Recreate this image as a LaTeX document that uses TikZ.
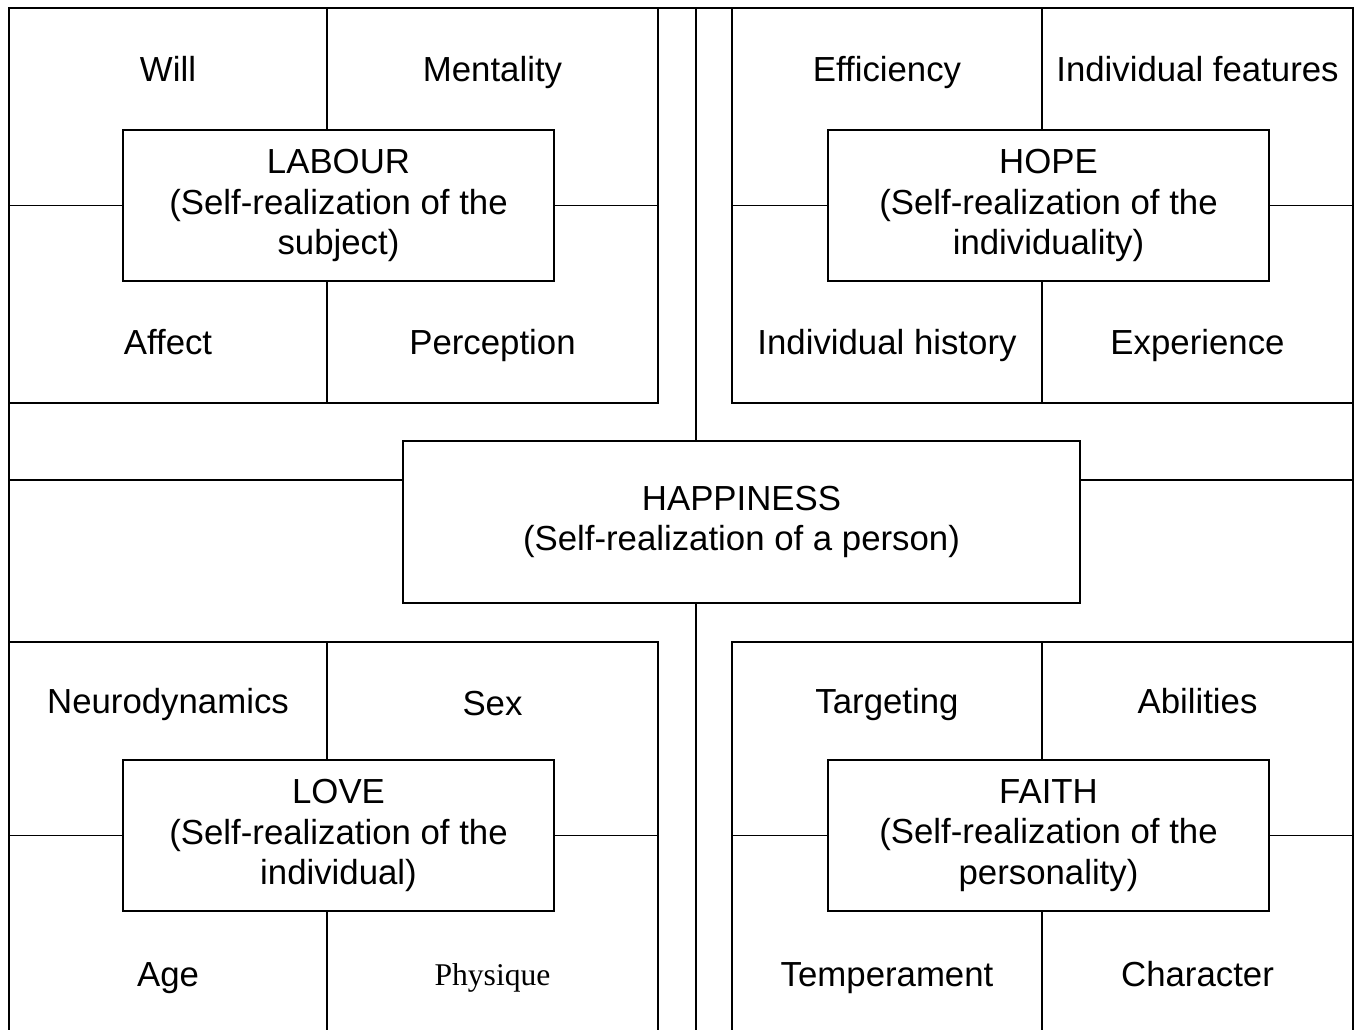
\documentclass[tikz,border=0pt]{standalone}
\usepackage{fontspec}
\setmainfont{Liberation Sans}
\newfontfamily\physfont{Liberation Serif}
\begin{document}
\begin{tikzpicture}[
		x=0.02cm, y=-0.02cm,
		line width=0.9pt,
		core/.style={draw, line width=0.9pt, minimum width=8.62cm, minimum height=3.02cm, inner sep=0pt, align=center, font=\fontsize{19.8}{23.2}\selectfont},
		hub/.style={core, minimum width=13.54cm, minimum height=3.24cm},
		item/.style={anchor=base, inner sep=0pt, font=\fontsize{19.8}{23.2}\selectfont}
		]
		\useasboundingbox (0,0) rectangle (1357,1030);
		\clip (0,0) rectangle (1357,1030);
		
		% frame lines
		\coordinate (xL) at (9,8);
		\coordinate (xR) at (1353,8);
		\coordinate (xLM) at (658,8);
		\coordinate (xM) at (696,8);
		\coordinate (xRM) at (732,8);
		\coordinate (cutL) at (327,8);
		\coordinate (cutR) at (1042,8);
		\coordinate (yQa) at (0,403);
		\coordinate (yQb) at (0,642);
		\coordinate (yMid) at (0,480);
		\coordinate (yB) at (0,1030);
		\draw (xL |- yB) -- (xL) -- (xR) -- (xR |- yB);
		\draw (xLM) -- (xLM |- yQa) -- (xL |- yQa);
		\draw (xRM) -- (xRM |- yQa) -- (xR |- yQa);
		\draw (xL |- yQb) -- (xLM |- yQb) -- (xLM |- yB);
		\draw (xR |- yQb) -- (xRM |- yQb) -- (xRM |- yB);
		
		% Happiness
		\node[hub] (happy) at (741.5,522) {HAPPINESS\\(Self-realization of a person)};
		\draw (xM) -- (xM |- happy.north);
		\draw (happy.south -| xM) -- (xM |- yB);
		\draw (happy.west |- yMid) -- (xL |- yMid);
		\draw (happy.east |- yMid) -- (xR |- yMid);
		
		% Labour
		\node[core] (labour) at (338.5,205.5) {LABOUR\\(Self-realization of the\\subject)};
		\node[item] (will) at (168,82) {Will};
		\node[item] (mentality) at (492.5,82) {Mentality};
		\node[item] (affect) at (168,355) {Affect};
		\node[item] (perception) at (492.5,355) {Perception};
		\draw (cutL) -- (cutL |- labour.north);
		\draw (labour.south -| cutL) -- (cutL |- yQa);
		\draw (labour.west) -- (labour.west -| xL);
		\draw (labour.east) -- (labour.east -| xLM);
		
		% Hope
		\node[core, minimum width=8.82cm] (hope) at (1048.5,205.5) {HOPE\\(Self-realization of the\\individuality)};
		\node[item] (efficiency) at (887,82) {Efficiency};
		\node[item] (features) at (1197.5,82) {Individual features};
		\node[item] (history) at (887,355) {Individual history};
		\node[item] (experience) at (1197.5,355) {Experience};
		\draw (cutR) -- (cutR |- hope.north);
		\draw (hope.south -| cutR) -- (cutR |- yQa);
		\draw (hope.west) -- (hope.west -| xRM);
		\draw (hope.east) -- (hope.east -| xR);
		
		% Love
		\node[core] (love) at (338.5,835.5) {LOVE\\(Self-realization of the\\individual)};
		\node[item] (neuro) at (168,714) {Neurodynamics};
		\node[item] (sex) at (492.5,716) {Sex};
		\node[item] (age) at (168,986) {Age};
		\node[item, font=\physfont\fontsize{18}{21}\selectfont] (physique) at (492.5,985) {Physique};
		\draw (cutL |- yQb) -- (cutL |- love.north);
		\draw (love.south -| cutL) -- (cutL |- yB);
		\draw (love.west) -- (love.west -| xL);
		\draw (love.east) -- (love.east -| xLM);
		
		% Faith
		\node[core, minimum width=8.82cm] (faith) at (1048.5,835.5) {FAITH\\(Self-realization of the\\personality)};
		\node[item] (targeting) at (887,714) {Targeting};
		\node[item] (abilities) at (1197.5,714) {Abilities};
		\node[item] (temperament) at (887,986) {Temperament};
		\node[item] (character) at (1197.5,986) {Character};
		\draw (cutR |- yQb) -- (cutR |- faith.north);
		\draw (faith.south -| cutR) -- (cutR |- yB);
		\draw (faith.west) -- (faith.west -| xRM);
		\draw (faith.east) -- (faith.east -| xR);
		
	\end{tikzpicture}
\end{document}
